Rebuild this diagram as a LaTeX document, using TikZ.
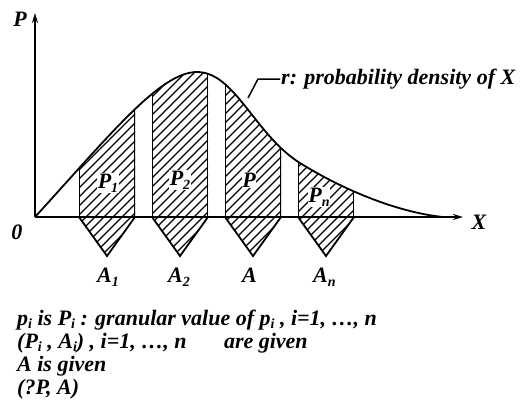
\documentclass[tikz,border=0pt]{standalone}
\usepackage{fontspec}
\setmainfont{Liberation Serif}
\usetikzlibrary{arrows.meta}
\newcommand{\mysb}[1]{\raisebox{-4pt}{\fontsize{14}{14}\selectfont #1}}
\newcommand{\mysbt}[1]{\raisebox{-3pt}{\fontsize{14}{14}\selectfont #1}}
\begin{document}
\begin{tikzpicture}[x=1pt,y=-1pt,
  every node/.style={font=\fontsize{22}{22}\selectfont\bfseries\itshape, inner sep=1pt},
  axis/.style={line width=1.8pt,-{Stealth[length=10pt,width=6pt]}},
  edge/.style={line width=1.8pt, line join=miter},
  hatch/.style={line width=1.2pt},
  lbl/.style={fill=white, inner sep=0.5pt},
  txt/.style={anchor=base west, inner sep=0pt}]
\useasboundingbox (0,0) rectangle (520,408);
% curve definition
\def\curve{(35,217) .. controls (110,135) and (160,72) .. (197,72)
   .. controls (235,72) and (255,135) .. (300,163)
   .. controls (340,188) and (395,212) .. (443,217)}
% bars: hatched region
\foreach \a/\b in {79/135,152/208,225/281,298/354}{
  \pgfmathsetmacro{\m}{(\a+\b)/2}
  \begin{scope}
    \clip \curve -- (443,262) -- (35,262) -- cycle;
    \clip (\a,0) -- (\b,0) -- (\b,217) -- (\m,256) -- (\a,217) -- cycle;
    \foreach \k in {-220,-211,...,400}{
      \draw[hatch] (\k,262) -- (\k+262,0);
    }
    \draw[edge] (\a,217) -- (\a,0);
    \draw[edge] (\b,217) -- (\b,0);
  \end{scope}
  \draw[edge] (\a,217) -- (\m,256) -- (\b,217);
}
% curve
\draw[edge] \curve;
% axes
\coordinate (O) at (35,217);
\coordinate (ytip) at (35,13);
\coordinate (xtip) at (463,217);
\draw[axis] (O) -- (ytip);
\draw[axis] (O) -- (xtip);
\node (Plab) at (20,19) {P};
\node (Xlab) at (479,222) {X};
\node (zero) at (17,232) {0};
% region labels
\node[lbl] (P1) at (108,183) {P\mysb{1}};
\node[lbl] (P2) at (180,180) {P\mysb{2}};
\node[lbl] (P3) at (249,180) {P};
\node[lbl] (Pn) at (319,197) {P\mysb{n}};
% A labels
\node[txt] (A1) at (97,282) {A\mysb{1}};
\node[txt] (A2) at (168,282) {A\mysb{2}};
\node[txt] (A3) at (242,282) {A};
\node[txt] (An) at (313,282) {A\mysb{n}};
% density label
\node[anchor=west] (rlab) at (280,79) {r: probability density of X};
\coordinate (r0) at (248,98);
\coordinate (r1) at (258,79);
\draw[line width=1.5pt] (r0) -- (r1) -- (rlab.west);
% text lines
\node[txt] (t1) at (17,325) {p\mysbt{i} is P\mysbt{i} : granular value of p\mysbt{i} , i=1, …, n};
\node[txt] (t2) at (17,348) {(P\mysbt{i} , A\mysbt{i}) , i=1, …, n \hspace{1.2em} are given};
\node[txt] (t3) at (17,371) {A is given};
\node[txt] (t4) at (17,394) {(?P, A)};
\end{tikzpicture}
\end{document}
